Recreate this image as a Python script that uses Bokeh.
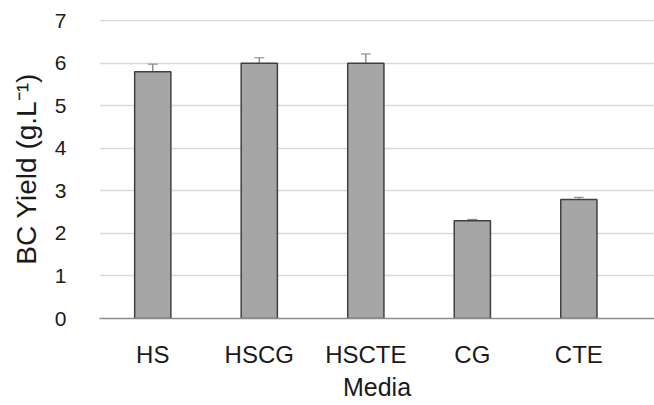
from bokeh.plotting import figure
from bokeh.models import ColumnDataSource, Range1d, FixedTicker, Whisker
from bokeh.embed import file_html
from bokeh.resources import INLINE

categories = ["HS", "HSCG", "HSCTE", "CG", "CTE"]
yields = [5.8, 6.0, 6.0, 2.3, 2.8]
errors = [0.18, 0.13, 0.22, 0.03, 0.05]
y_ticks = [0, 1, 2, 3, 4, 5, 6, 7]
y_title = "BC Yield (g.L\u207b\u00b9)"
x_title = "Media"

xs = list(range(len(categories)))
src = ColumnDataSource(dict(
    x=xs, top=yields,
    upper=[v + e for v, e in zip(yields, errors)],
    lower=[v - e for v, e in zip(yields, errors)],
))

p = figure(width=654, height=405, output_backend="svg", toolbar_location=None,
           x_range=Range1d(-0.5, 4.71), y_range=Range1d(0, 7.03),
           min_border_left=99, min_border_right=0, min_border_top=19, min_border_bottom=87)
p.outline_line_color = None

p.vbar(x="x", top="top", width=0.34, source=src, fill_color="#a6a6a6",
       line_color="#404040", line_width=1.5)

w = Whisker(base="x", upper="upper", lower="lower", source=src,
            line_color="#808080", line_width=1.3)
w.upper_head.line_color = "#808080"
w.lower_head.line_color = "#808080"
w.upper_head.size = 10
w.lower_head.size = 10
p.add_layout(w)

p.xgrid.grid_line_color = None
p.ygrid.grid_line_color = "#d9d9d9"
p.ygrid.grid_line_width = 1.5
p.ygrid.ticker = FixedTicker(ticks=y_ticks)

p.xaxis.ticker = FixedTicker(ticks=xs)
p.xaxis.major_label_overrides = {i: c for i, c in enumerate(categories)}
p.xaxis.axis_line_color = "#8c8c8c"
p.xaxis.axis_line_width = 1.5
p.xaxis.major_tick_line_color = None
p.xaxis.minor_tick_line_color = None
p.xaxis.major_label_standoff = 16
p.xaxis.major_label_text_font = "Liberation Sans"
p.xaxis.major_label_text_font_size = "24px"
p.xaxis.major_label_text_color = "#1a1a1a"
p.xaxis.axis_label = x_title
p.xaxis.axis_label_text_font = "Liberation Sans"
p.xaxis.axis_label_text_font_size = "25px"
p.xaxis.axis_label_text_font_style = "normal"
p.xaxis.axis_label_text_color = "#1a1a1a"
p.xaxis.axis_label_standoff = 2

p.yaxis.ticker = FixedTicker(ticks=y_ticks)
p.yaxis.axis_line_color = None
p.yaxis.major_tick_line_color = None
p.yaxis.minor_tick_line_color = None
p.yaxis.major_label_standoff = 27
p.yaxis.major_label_text_font = "Liberation Sans"
p.yaxis.major_label_text_font_size = "21px"
p.yaxis.major_label_text_color = "#1a1a1a"
p.yaxis.axis_label = y_title
p.yaxis.axis_label_text_font = "Liberation Sans"
p.yaxis.axis_label_text_font_size = "28px"
p.yaxis.axis_label_text_font_style = "normal"
p.yaxis.axis_label_text_color = "#1a1a1a"
p.yaxis.axis_label_standoff = 10

open("out.html", "w").write(file_html(p, INLINE))
